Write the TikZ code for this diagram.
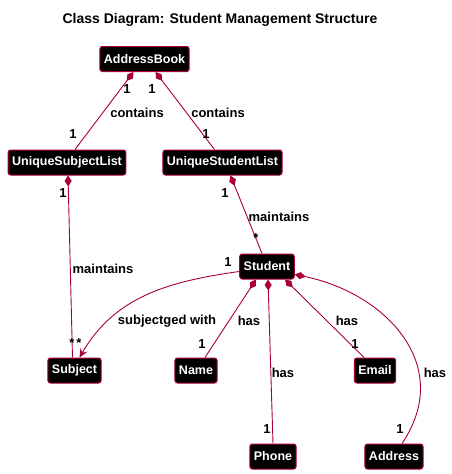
\documentclass[tikz,border=0pt]{standalone}
\usepackage{fontspec}
\setmainfont{Liberation Sans}
\usetikzlibrary{arrows.meta}
\definecolor{umlred}{HTML}{A80036}
\begin{document}
\begin{tikzpicture}[x=1pt,y=-1pt,
  cls/.style={draw=umlred,fill=black,text=white,font=\fontsize{12.5}{14}\selectfont\bfseries,
    rounded corners=2.5pt,line width=1pt,minimum height=25pt,inner xsep=4pt,inner ysep=2pt},
  lbl/.style={font=\fontsize{13}{15}\selectfont\bfseries,text=black,inner sep=0pt},
  rel/.style={draw=umlred,line width=0.9pt},
  comp/.style={rel,{Diamond[fill=umlred,length=11pt,width=7pt]}-},
  assoc/.style={rel,-{Stealth[length=9pt,width=8pt,inset=3.5pt]}}]
\useasboundingbox (0,0) rectangle (452,474);
\node[font=\fontsize{14}{17}\selectfont\bfseries] (title) at (220,20) {Class Diagram: Student Management Structure};
\node[cls] (ab) at (144.5,59) {AddressBook};
\node[cls] (usl) at (67,162.5) {UniqueSubjectList};
\node[cls] (ustl) at (222.5,162.5) {UniqueStudentList};
\node[cls] (st) at (267,266.5) {Student};
\node[cls] (sub) at (74.5,370.5) {Subject};
\node[cls] (nm) at (196,370.5) {Name};
\node[cls] (em) at (375,370.5) {Email};
\node[cls] (ph) at (273,456.5) {Phone};
\node[cls] (ad) at (394,456.5) {Address};

\draw[comp] ([xshift=-11pt]ab.south) -- ([xshift=8pt]usl.north);
\draw[comp] ([xshift=11pt]ab.south) -- ([xshift=-8pt]ustl.north);
\draw[comp] ([xshift=1pt]usl.south) -- ([xshift=-2pt]sub.north);
\draw[comp] ([xshift=8pt]ustl.south) -- ([xshift=-5pt]st.north);
\draw[assoc] ([yshift=-5pt]st.west) to[out=188,in=60] ([xshift=5pt]sub.north);
\draw[comp] ([xshift=-11pt]st.south) -- ([xshift=9pt]nm.north);
\draw[comp] ([xshift=1pt]st.south) -- (ph.north);
\draw[comp] ([xshift=18pt]st.south) -- ([xshift=-11pt]em.north);
\draw[comp] ([yshift=-8pt]st.east) .. controls (385,293) and (455,365) .. ([xshift=8pt]ad.north);

\node[lbl] (l1) at (127,89) {1};
\node[lbl] (l2) at (73,134) {1};
\node[lbl] (l3) at (137,113) {contains};
\node[lbl] (l4) at (152,89) {1};
\node[lbl] (l5) at (218,113) {contains};
\node[lbl] (l6) at (206,134) {1};
\node[lbl] (l7) at (63,193) {1};
\node[lbl] (l8) at (103,269) {maintains};
\node[lbl] (l9a) at (72,343) {*};
\node[lbl] (l9b) at (79,343) {*};
\node[lbl] (l10) at (225,193) {1};
\node[lbl] (l11) at (279,217) {maintains};
\node[lbl] (l12) at (256,238) {*};
\node[lbl] (l13) at (228,262) {1};
\node[lbl] (l14) at (167,321) {subjectged with};
\node[lbl] (l15) at (249,321) {has};
\node[lbl] (l16) at (202,344) {1};
\node[lbl] (l17) at (283,373) {has};
\node[lbl] (l18) at (267,429) {1};
\node[lbl] (l19) at (347,321) {has};
\node[lbl] (l20) at (355,344) {1};
\node[lbl] (l21) at (435,373) {has};
\node[lbl] (l22) at (400,429) {1};
\end{tikzpicture}
\end{document}
